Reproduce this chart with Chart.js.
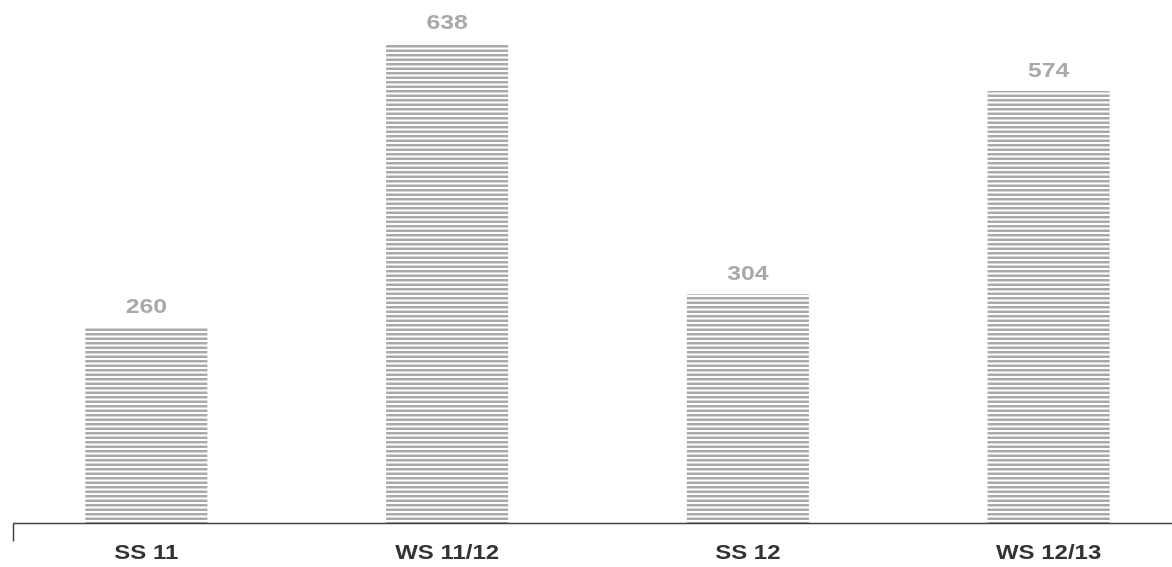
<!DOCTYPE html>
<html>
<head>
<meta charset="utf-8">
<script src="https://cdn.jsdelivr.net/npm/chart.js@4/dist/chart.umd.min.js"></script>
<style>
  html, body { margin: 0; padding: 0; background: #fff; overflow: hidden; }
  #wrap { position: absolute; left: -4px; top: 0; width: 1203px; height: 567px; }
</style>
</head>
<body>
<div id="wrap"><canvas id="semesterChart" width="1203" height="567"></canvas></div>
<script>
const semesters = ["SS 11", "WS 11/12", "SS 12", "WS 12/13"];
const counts = [260, 638, 304, 574];

const FONT = "'Liberation Sans', Arial, Helvetica, sans-serif";

// horizontal stripe fill for the bars
const makeStripes = () => {
  const c = document.createElement("canvas");
  c.width = 4;
  c.height = 9;
  const g = c.getContext("2d");
  g.fillStyle = "#a9a9a9";
  g.fillRect(0, 0, 4, 2.5);
  g.fillRect(0, 4.5, 4, 2.5);
  return g.createPattern(c, "repeat");
};

// text in the original is a bit wider than normal, so stretch it sideways
const wideText = (ctx, text, x, y, stretch) => {
  ctx.save();
  ctx.translate(x, y);
  ctx.scale(stretch, 1);
  ctx.fillText(text, 0, 0);
  ctx.restore();
};

const valueLabels = {
  id: "valueLabels",
  afterDatasetsDraw(chart) {
    const ctx = chart.ctx;
    const meta = chart.getDatasetMeta(0);
    ctx.save();
    ctx.font = "bold 19.5px " + FONT;
    ctx.fillStyle = "#a9a9a9";
    ctx.textAlign = "center";
    ctx.textBaseline = "alphabetic";
    meta.data.forEach((bar, i) => {
      wideText(ctx, String(counts[i]), bar.x, bar.y - 14, 1.27);
    });
    ctx.restore();
  },
};

const categoryLabels = {
  id: "categoryLabels",
  afterDraw(chart) {
    const ctx = chart.ctx;
    const xScale = chart.scales.x;
    const y = chart.scales.y.getPixelForValue(0);
    ctx.save();
    ctx.font = "bold 20.5px " + FONT;
    ctx.fillStyle = "#333";
    ctx.textAlign = "center";
    ctx.textBaseline = "alphabetic";
    xScale.getLabels().forEach((label, i) => {
      wideText(ctx, label, xScale.getPixelForTick(i), y + 36, 1.17);
    });
    ctx.restore();
  },
};

const baseLine = {
  id: "baseLine",
  afterDraw(chart) {
    const ctx = chart.ctx;
    const y = Math.round(chart.scales.y.getPixelForValue(0)) + 0.5;
    ctx.save();
    ctx.strokeStyle = "#444";
    ctx.lineWidth = 1.5;
    ctx.beginPath();
    ctx.moveTo(17, y);
    ctx.lineTo(chart.width, y);
    ctx.moveTo(17.5, y);
    ctx.lineTo(17.5, y + 18);
    ctx.stroke();
    ctx.restore();
  },
};

new Chart(document.getElementById("semesterChart"), {
  type: "bar",
  data: {
    labels: semesters,
    datasets: [
      {
        data: counts,
        backgroundColor: makeStripes(),
        borderWidth: 0,
        barPercentage: 0.406,
        categoryPercentage: 1,
      },
    ],
  },
  options: {
    responsive: false,
    animation: false,
    layout: { padding: { top: 0, bottom: 44, left: 0, right: 0 } },
    plugins: {
      legend: { display: false },
      tooltip: { enabled: false },
    },
    scales: {
      x: {
        display: false,
      },
      y: {
        display: false,
        min: 0,
        max: 695,
      },
    },
  },
  plugins: [valueLabels, categoryLabels, baseLine],
});
</script>
</body>
</html>
